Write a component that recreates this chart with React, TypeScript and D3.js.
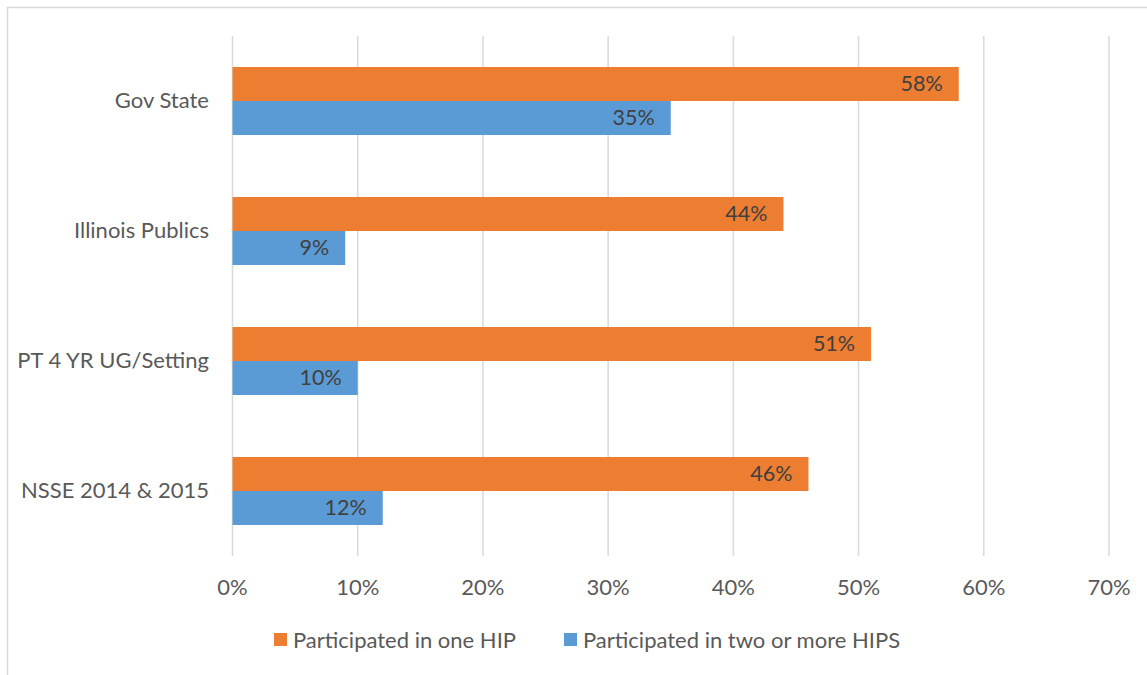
import React from "react";
import * as d3 from "d3";

const categories = ["Gov State", "Illinois Publics", "PT 4 YR UG/Setting", "NSSE 2014 & 2015"];
const seriesNames = ["Participated in one HIP", "Participated in two or more HIPS"];
const oneHip = [58, 44, 51, 46];
const twoPlusHips = [35, 9, 10, 12];
const xTicks = [0, 10, 20, 30, 40, 50, 60, 70];
const colors = ["#ED7D31", "#5B9BD5"];

const W = 1147;
const H = 675;
const FONT = "Lato, 'Open Sans', sans-serif";
const TEXT = "#595959";

export default function App() {
  const x = d3.scaleLinear().domain([0, 70]).range([232.5, 1109]);
  const y = d3.scaleBand<string>().domain(categories).range([36, 556]);
  const series = [oneHip, twoPlusHips];
  const barH = 34;
  const bandC = y.bandwidth() / 2;

  return (
    <svg width={W} height={H} style={{ position: "absolute", left: 0, top: 0 }}>
      <rect x={7.5} y={7.5} width={W + 10} height={H + 10} fill="white" stroke="#D9D9D9" strokeWidth={1.5} />
      {xTicks.map((t) => (
        <line key={t} x1={x(t)} x2={x(t)} y1={36} y2={556} stroke="#D9D9D9" strokeWidth={1.5} />
      ))}
      {categories.map((c, i) => (
        <g key={c}>
          {series.map((s, j) => {
            const top = (y(c) as number) + bandC - barH + j * barH;
            return (
              <g key={j}>
                <rect x={x(0)} y={top} width={x(s[i]) - x(0)} height={barH} fill={colors[j]} />
                <text
                  x={x(s[i]) - 16}
                  y={top + barH / 2 - 1.5}
                  textAnchor="end"
                  dominantBaseline="central"
                  fontFamily={FONT}
                  fontSize={21.5}
                  fill="#404040"
                >
                  {s[i] + "%"}
                </text>
              </g>
            );
          })}
          <text
            x={209}
            y={(y(c) as number) + bandC - 1.5}
            textAnchor="end"
            dominantBaseline="central"
            fontFamily={FONT}
            fontSize={22}
            fill={TEXT}
          >
            {c}
          </text>
        </g>
      ))}
      {xTicks.map((t) => (
        <text key={t} x={x(t)} y={586} textAnchor="middle" dominantBaseline="central" fontFamily={FONT} fontSize={22} fill={TEXT}>
          {t + "%"}
        </text>
      ))}
      {seriesNames.map((n, j) => {
        const lx = j === 0 ? 274 : 564;
        return (
          <g key={n}>
            <rect x={lx} y={633} width={13} height={13} fill={colors[j]} />
            <text x={lx + 19} y={639} dominantBaseline="central" fontFamily={FONT} fontSize={22} fill={TEXT}>
              {n}
            </text>
          </g>
        );
      })}
    </svg>
  );
}
